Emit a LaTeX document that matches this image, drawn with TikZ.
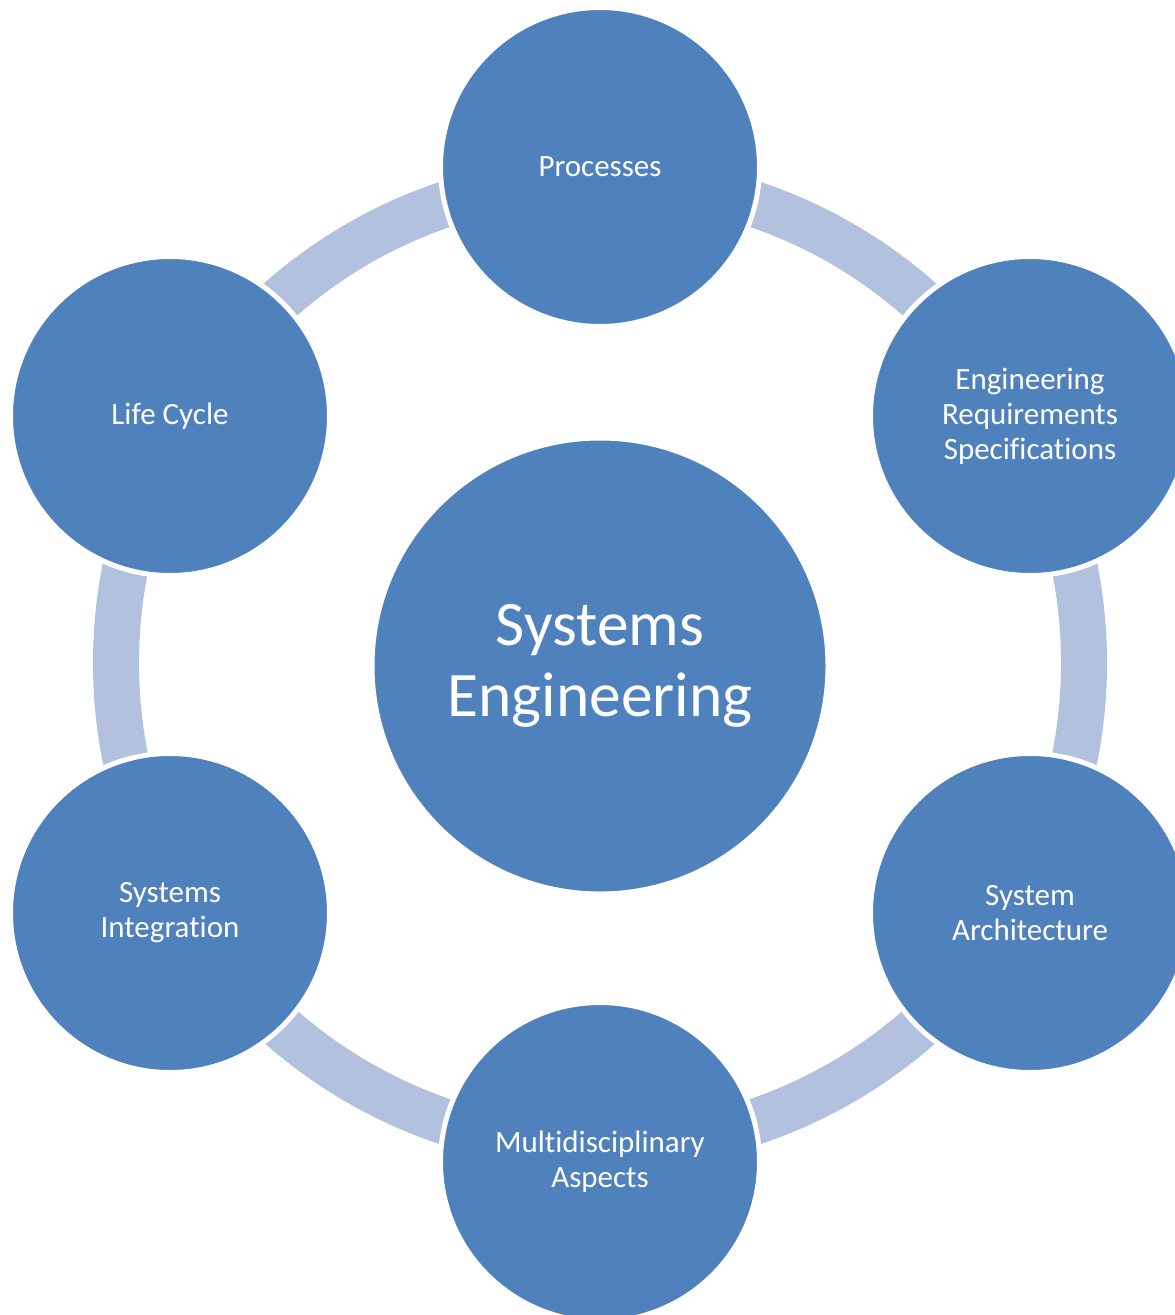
\documentclass[tikz,border=0pt]{standalone}
\usepackage{fontspec}
\setmainfont{Carlito}[Ligatures=NoCommon]

\definecolor{seblue}{HTML}{4F81BD}
\definecolor{seband}{HTML}{B2C1DD}

\tikzset{
  topic/.style={circle, fill=seblue, draw=white, line width=2.5bp,
    minimum size=159.5bp, inner sep=0pt, align=center, text=white,
    font=\fontsize{15.5bp}{17.5bp}\selectfont},
  core/.style={topic, minimum size=228bp,
    font=\fontsize{31.7bp}{35.5bp}\selectfont},
  band/.style={draw=seband, line width=23bp}
}

\begin{document}
\begin{tikzpicture}[x=0.5bp, y=-0.5bp]
  \useasboundingbox (0,0) rectangle (1175,1315);
  \clip (0,0) rectangle (1175,1315);

  % ring behind the circles
  \coordinate (hub) at (600,663);
  \draw[band] (hub) circle[radius=242bp];

  \node[core] (se) at (600,666) {Systems\\Engineering};

  \node[topic] (proc) at (600,167) {Processes};
  \node[topic] (req) at (1030,416) {Engineering\\Requirements\\Specifications};
  \node[topic] (arch) at (1030,913) {System\\Architecture};
  \node[topic] (multi) at (600,1162) {Multidisciplinary\\Aspects};
  \node[topic] (integ) at (170,913) {Systems\\Integration};
  \node[topic] (life) at (170,416) {Life Cycle};
\end{tikzpicture}
\end{document}
